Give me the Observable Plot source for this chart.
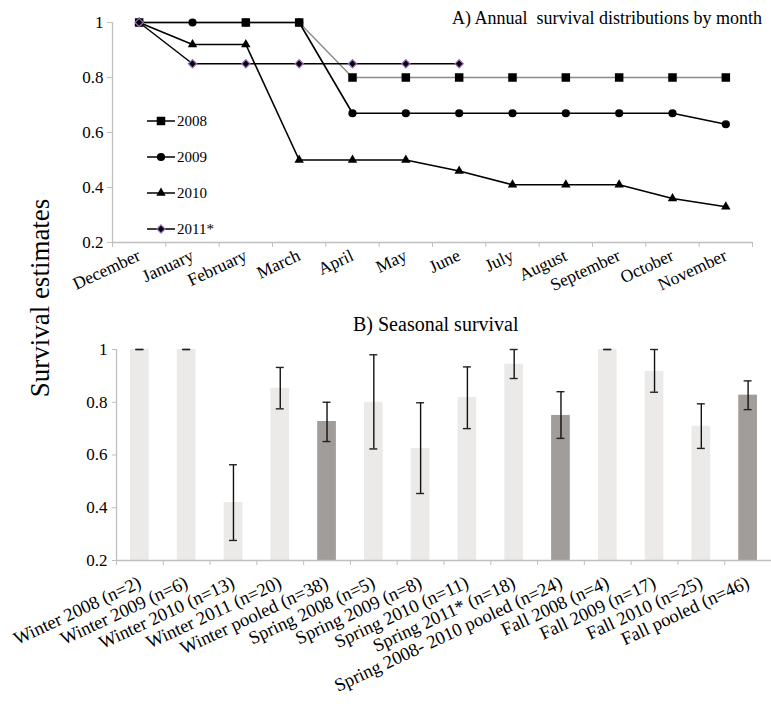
<!DOCTYPE html>
<html>
<head>
<meta charset="utf-8">
<script src="https://cdn.jsdelivr.net/npm/d3@7"></script>
<script src="https://cdn.jsdelivr.net/npm/@observablehq/plot@0.6"></script>
<style>
  body { margin: 0; background: white; }
  #wrap { position: relative; width: 771px; height: 706px; font-family: "Liberation Serif", "Times New Roman", "DejaVu Serif", "Noto Serif", serif; color: black; overflow: hidden; }
  .abs { position: absolute; }
  .title { white-space: pre; line-height: 1; }
  #ylab { font-size: 27px; white-space: pre; transform: translate(-50%, -50%) rotate(-90deg); left: 40px; top: 298px; line-height: 1; }
</style>
</head>
<body>
<div id="wrap"></div>
<script>
// ---------- Data: A) monthly survival ----------
const months = ["December", "January", "February", "March", "April", "May", "June", "July", "August", "September", "October", "November"];
const s2008 = [1, null, 1, 1, 0.8, 0.8, 0.8, 0.8, 0.8, 0.8, 0.8, 0.8];
const s2009 = [1, 1, 1, 1, 0.67, 0.67, 0.67, 0.67, 0.67, 0.67, 0.67, 0.63];
const s2010 = [1, 0.92, 0.92, 0.5, 0.5, 0.5, 0.46, 0.41, 0.41, 0.41, 0.36, 0.33];
const s2011 = [1, 0.85, 0.85, 0.85, 0.85, 0.85, 0.85, null, null, null, null, null];
const seriesNames = ["2008", "2009", "2010", "2011*"];
const yTicks = [0.2, 0.4, 0.6, 0.8, 1];

// ---------- Data: B) seasonal survival ----------
const seasons = ["Winter 2008 (n=2)", "Winter 2009 (n=6)", "Winter 2010 (n=13)", "Winter 2011 (n=20)", "Winter pooled (n=38)",
  "Spring 2008 (n=5)", "Spring 2009 (n=8)", "Spring 2010 (n=11)", "Spring 2011* (n=18)", "Spring 2008- 2010 pooled (n=24)",
  "Fall 2008 (n=4)", "Fall 2009 (n=17)", "Fall 2010 (n=25)", "Fall pooled (n=46)"];
const estimate = [1, 1, 0.42, 0.853, 0.727, 0.80, 0.625, 0.818, 0.944, 0.75, 1, 0.917, 0.709, 0.827];
const lowerCI  = [1, 1, 0.276, 0.775, 0.651, 0.623, 0.454, 0.70, 0.89, 0.663, 1, 0.838, 0.625, 0.772];
const upperCI  = [1, 1, 0.563, 0.932, 0.80, 0.98, 0.798, 0.934, 1.0, 0.84, 1, 1.0, 0.794, 0.881];
const pooled   = [false, false, false, false, true, false, false, false, false, true, false, false, false, true];

// ---------- Styles ----------
const axisGray = "#bfbfbf";
const font = '"Liberation Serif", "Times New Roman", "DejaVu Serif", "Noto Serif", serif';
const fmt = d => String(+d.toFixed(1));
const styles = {
  "2008": {values: s2008, symbol: "square", r: 4.8, line: "#8a8a8a", lw: 1.4},
  "2009": {values: s2009, symbol: "circle", r: 4.1, line: "#000", lw: 1.6},
  "2010": {values: s2010, symbol: "triangle", r: 3.5, line: "#000", lw: 1.6},
  "2011*": {values: s2011, symbol: "diamond2", r: 3.7, line: "#000", lw: 1.5}
};
const dotStroke = {"2011*": "#9a6bbf"};

const rows = seriesNames.flatMap(name => styles[name].values
  .map((v, i) => ({series: name, i, v}))
  .filter(d => d.v != null));

const wrap = document.getElementById("wrap");

// ---------- Chart A ----------
const idxA = months.map((_, i) => i);
const bndA = d3.range(months.length + 1).map(i => i - 0.5);
const lineOrder = ["2008", "2009", "2010", "2011*"];
const dotOrder = ["2009", "2010", "2008", "2011*"];

const chartA = Plot.plot({
  width: 771, height: 300,
  marginTop: 22, marginBottom: 58, marginLeft: 112, marginRight: 19,
  style: {fontFamily: font, fontSize: "17px", color: "black", background: "white", overflow: "visible"},
  x: {type: "linear", domain: [bndA[0], bndA[bndA.length - 1]]},
  y: {domain: [0.2, 1]},
  marks: [
    Plot.ruleX([bndA[0]], {stroke: axisGray, strokeWidth: 1.3}),
    Plot.ruleY([0.2], {stroke: axisGray, strokeWidth: 1.3}),
    Plot.axisY({ticks: yTicks, tickFormat: fmt, tickSize: 5, tickPadding: 4, stroke: axisGray, fill: "black", fontSize: 17, label: null}),
    Plot.axisX({ticks: bndA, tickSize: 5, tickFormat: () => "", stroke: axisGray, label: null}),
    Plot.axisX({ticks: idxA, tickFormat: i => months[i], tickSize: 0, tickPadding: 12, tickRotate: -25, fontSize: 17.5, fill: "black", label: null}),
    ...lineOrder.map(name => Plot.line(rows.filter(d => d.series === name), {
      x: "i", y: "v", stroke: styles[name].line, strokeWidth: styles[name].lw
    })),
    ...dotOrder.map(name => Plot.dot(rows.filter(d => d.series === name), {
      x: "i", y: "v", symbol: () => styles[name].symbol, r: styles[name].r,
      fill: "#000", stroke: dotStroke[name] || "none", strokeWidth: 1.2
    }))
  ]
});
chartA.style.position = "absolute";
chartA.style.left = "0px";
chartA.style.top = "0px";
wrap.appendChild(chartA);

// legend for chart A
const leg = d3.create("svg").attr("width", 771).attr("height", 300)
  .style("position", "absolute").style("left", "0px").style("top", "0px")
  .style("font-family", font).style("font-size", "15px");
const symMap = {square: d3.symbolSquare, circle: d3.symbolCircle, triangle: d3.symbolTriangle, diamond2: d3.symbolDiamond2};
seriesNames.forEach((name, k) => {
  const y = 121 + k * 36;
  const s = styles[name];
  const g = leg.append("g").attr("transform", `translate(0,${y})`);
  g.append("line").attr("x1", 147).attr("x2", 175).attr("y1", 0).attr("y2", 0)
    .attr("stroke", "#000").attr("stroke-width", 1.5);
  g.append("path").attr("transform", "translate(161,0)")
    .attr("d", d3.symbol(symMap[s.symbol], Math.PI * s.r * s.r)())
    .attr("fill", "#000").attr("stroke", dotStroke[name] || "none").attr("stroke-width", 1.2);
  g.append("text").attr("x", 177).attr("y", 0).attr("dy", "0.35em").text(name);
});
wrap.appendChild(leg.node());

// ---------- Chart B ----------
const bdata = seasons.map((s, i) => ({i, s, est: estimate[i], lo: lowerCI[i], hi: upperCI[i], pooled: pooled[i]}));
const idxB = seasons.map((_, i) => i);
const bndB = d3.range(seasons.length + 1).map(i => i - 0.5);
const halfBar = 0.2, halfCap = 0.085;

const chartB = Plot.plot({
  width: 771, height: 406,
  marginTop: 49, marginBottom: 146, marginLeft: 116, marginRight: 0,
  style: {fontFamily: font, fontSize: "17px", color: "black", background: "white", overflow: "visible"},
  x: {type: "linear", domain: [bndB[0], bndB[bndB.length - 1]]},
  y: {domain: [0.2, 1]},
  marks: [
    Plot.rectY(bdata, {x1: d => d.i - halfBar, x2: d => d.i + halfBar, y1: 0.2, y2: "est",
      fill: d => d.pooled ? "#a19d9a" : "#ebeae9"}),
    Plot.ruleX([bndB[0]], {stroke: axisGray, strokeWidth: 1.3}),
    Plot.ruleY([0.2], {stroke: axisGray, strokeWidth: 1.3}),
    Plot.ruleX(bdata, {x: "i", y1: "lo", y2: "hi", stroke: "#111", strokeWidth: 1.4}),
    Plot.ruleY(bdata, {y: "hi", x1: d => d.i - halfCap, x2: d => d.i + halfCap, stroke: "#222", strokeWidth: 1.4}),
    Plot.ruleY(bdata, {y: "lo", x1: d => d.i - halfCap, x2: d => d.i + halfCap, stroke: "#222", strokeWidth: 1.4}),
    Plot.axisY({ticks: yTicks, tickFormat: fmt, tickSize: 4, tickPadding: 5, stroke: axisGray, fill: "black", fontSize: 17, label: null}),
    Plot.axisX({ticks: bndB, tickSize: 5, tickFormat: () => "", stroke: axisGray, label: null}),
    Plot.axisX({ticks: idxB, tickFormat: i => seasons[i], tickSize: 0, tickPadding: 21, tickRotate: -25, fontSize: 18.5, fill: "black", label: null})
  ]
});
chartB.style.position = "absolute";
chartB.style.left = "0px";
chartB.style.top = "300px";
wrap.appendChild(chartB);

// ---------- Titles ----------
const tA = document.createElement("div");
tA.className = "abs title";
tA.textContent = "A) Annual  survival distributions by month";
tA.style.fontSize = "18px";
tA.style.right = "9px"; tA.style.top = "9px";
wrap.appendChild(tA);

const tB = document.createElement("div");
tB.className = "abs title";
tB.textContent = "B) Seasonal survival";
tB.style.fontSize = "20px";
tB.style.left = "353px"; tB.style.top = "314px";
wrap.appendChild(tB);

const yl = document.createElement("div");
yl.className = "abs";
yl.id = "ylab";
yl.textContent = "Survival estimates";
wrap.appendChild(yl);
</script>
</body>
</html>
